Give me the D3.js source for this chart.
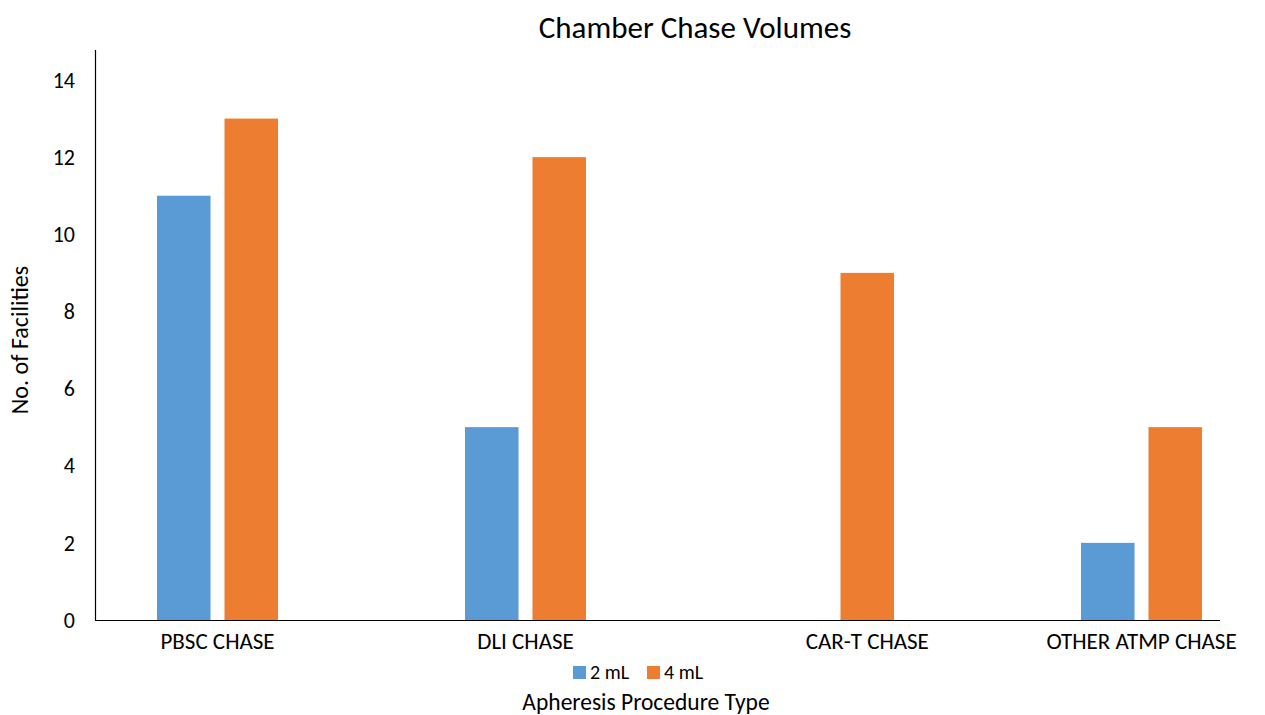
<!DOCTYPE html>
<html>
<head>
<meta charset="utf-8">
<script src="https://cdn.jsdelivr.net/npm/d3@7"></script>
<style>
  body { margin: 0; background: #fff; }
  text { font-family: Carlito, Calibri, Lato, sans-serif; fill: #000; }
</style>
</head>
<body>
<svg></svg>
<script>
var categories = ["PBSC CHASE", "DLI CHASE", "CAR-T CHASE", "OTHER ATMP CHASE"];
var seriesNames = ["2 mL", "4 mL"];
var vals2mL = [11, 5, 0, 2];
var vals4mL = [13, 12, 9, 5];
var yTicks = [0, 2, 4, 6, 8, 10, 12, 14];
var colors = ["#5B9BD5", "#ED7D31"];

var svgWidth = 1265, svgHeight = 715;
var svg = d3.select("svg").attr("width", svgWidth).attr("height", svgHeight);

// rows for grouped bars
var rows = categories.map(function(c, i) {
    return { cat: c, values: [vals2mL[i], vals4mL[i]] };
});

var x0 = d3.scaleBand()
    .domain(categories)
    .range([63.5, 1295.5])
    .paddingInner(0.607)
    .paddingOuter(0.3035);

var x1 = d3.scaleBand()
    .domain(seriesNames)
    .range([0, x0.bandwidth()])
    .paddingInner(0.207);

var y = d3.scaleLinear().domain([0, 14]).range([620, 80]);

// bars
var groups = svg.selectAll("g.grp")
    .data(rows)
    .enter().append("g")
    .attr("class", "grp")
    .attr("transform", function(d) { return "translate(" + x0(d.cat) + ",0)"; });

groups.selectAll("rect")
    .data(function(d) { return d.values.map(function(v, j) { return { s: seriesNames[j], v: v, j: j }; }); })
    .enter().append("rect")
    .attr("x", function(d) { return x1(d.s); })
    .attr("y", function(d) { return y(d.v); })
    .attr("width", x1.bandwidth())
    .attr("height", function(d) { return y(0) - y(d.v); })
    .attr("fill", function(d) { return colors[d.j]; });

// axes lines
svg.append("line").attr("x1", 95.5).attr("x2", 95.5).attr("y1", 50).attr("y2", y(0))
    .attr("stroke", "#000").attr("stroke-width", 1.2);
svg.append("line").attr("x1", 95).attr("x2", 1220).attr("y1", y(0) + 0.5).attr("y2", y(0) + 0.5)
    .attr("stroke", "#000").attr("stroke-width", 1.2);

// y tick labels
svg.selectAll("text.ytick")
    .data(yTicks)
    .enter().append("text")
    .attr("class", "ytick")
    .attr("x", 75)
    .attr("y", function(d) { return y(d); })
    .attr("dy", "0.35em")
    .attr("text-anchor", "end")
    .style("font-size", "22px")
    .text(function(d) { return d; });

// category labels, centred under the bars that are drawn
svg.selectAll("text.xlab")
    .data(rows)
    .enter().append("text")
    .attr("class", "xlab")
    .attr("x", function(d) {
        var xs = [];
        d.values.forEach(function(v, j) {
            if (v > 0) xs.push(x0(d.cat) + x1(seriesNames[j]) + x1.bandwidth() / 2);
        });
        return d3.mean(xs);
    })
    .attr("y", 649)
    .attr("text-anchor", "middle")
    .style("font-size", "23px")
    .text(function(d) { return d.cat; });

// title
svg.append("text")
    .attr("x", 695).attr("y", 38)
    .attr("text-anchor", "middle")
    .style("font-size", "31px")
    .text("Chamber Chase Volumes");

// axis titles
svg.append("text")
    .attr("x", 646).attr("y", 710)
    .attr("text-anchor", "middle")
    .style("font-size", "23.5px")
    .text("Apheresis Procedure Type");

svg.append("text")
    .attr("transform", "translate(28,340) rotate(-90)")
    .attr("text-anchor", "middle")
    .style("font-size", "24px")
    .text("No. of Facilities");

// legend
var legendX = [573, 647];
var legend = svg.selectAll("g.leg")
    .data(seriesNames)
    .enter().append("g")
    .attr("class", "leg")
    .attr("transform", function(d, i) { return "translate(" + legendX[i] + ",666)"; });
legend.append("rect").attr("width", 13).attr("height", 13)
    .attr("fill", function(d, i) { return colors[i]; });
legend.append("text").attr("x", 17).attr("y", 13)
    .style("font-size", "20px")
    .text(function(d) { return d; });
</script>
</body>
</html>
